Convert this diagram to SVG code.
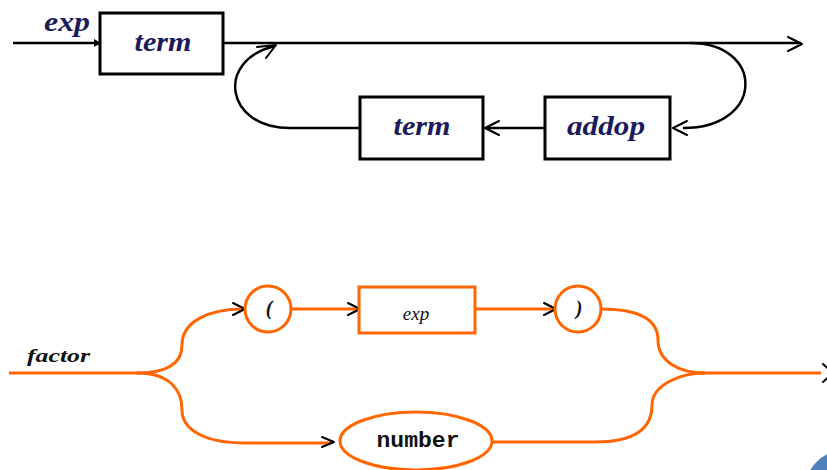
<svg xmlns="http://www.w3.org/2000/svg" width="827" height="470" viewBox="0 0 827 470">
  <style>
    .box { fill: #ffffff; stroke: #000000; stroke-width: 3; }
    .obox { fill: #ffffff; stroke: #ff6600; stroke-width: 3; }
    .wire { fill: none; stroke: #000000; stroke-width: 2.5; }
    .owire { fill: none; stroke: #ff6600; stroke-width: 3; }
    .chev { fill: none; stroke: #000000; stroke-width: 2; stroke-linecap: round; stroke-linejoin: round; }
    .lbl { font-family: "Liberation Serif", "Times New Roman", serif; font-style: italic; font-weight: bold; fill: #1b1b5c; }
    .blbl { font-family: "Liberation Serif", "Times New Roman", serif; font-style: italic; fill: #111111; }
    .mono { font-family: "Liberation Mono", "Courier New", monospace; font-weight: bold; fill: #111111; }
  </style>

  <!-- exp ::= term { addop term } -->
  <g id="connectors-exp">
    <line class="wire" x1="13" y1="43" x2="96" y2="43"/>
    <polygon points="94,39 101,43 94,47" fill="#000000"/>
    <line class="wire" x1="223" y1="43" x2="801" y2="43"/>
    <polyline class="chev" points="788,37 802,44 788,51"/>
    <!-- branch back through addop -->
    <path class="wire" d="M690,43 C765,43 765,128 683,128"/>
    <polyline class="chev" points="687,121 673,128 687,135"/>
    <line class="wire" x1="545" y1="128" x2="487" y2="128"/>
    <polyline class="chev" points="499,121 485,128 499,135"/>
    <line class="wire" x1="360" y1="128" x2="290" y2="128"/>
    <path class="wire" d="M290,128 C225,128 215,60 275,46"/>
    <polyline class="chev" points="257,47 276,45 266,58"/>
  </g>
  <text class="lbl" x="44" y="31" font-size="27" textLength="46" lengthAdjust="spacingAndGlyphs">exp</text>

  <g id="term1">
    <rect class="box" x="100" y="13" width="123" height="61"/>
    <text class="lbl" x="163" y="51" font-size="27" text-anchor="middle" textLength="57" lengthAdjust="spacingAndGlyphs">term</text>
  </g>
  <g id="term2">
    <rect class="box" x="360" y="97" width="123" height="62"/>
    <text class="lbl" x="422" y="135" font-size="27" text-anchor="middle" textLength="57" lengthAdjust="spacingAndGlyphs">term</text>
  </g>
  <g id="addop">
    <rect class="box" x="545" y="97" width="125" height="62"/>
    <text class="lbl" x="606" y="135" font-size="27" text-anchor="middle" textLength="78" lengthAdjust="spacingAndGlyphs">addop</text>
  </g>

  <!-- factor ::= ( exp ) | number -->
  <g id="connectors-factor">
    <line class="owire" x1="9" y1="373" x2="140" y2="373"/>
    <path class="owire" d="M137,373 C170,373 182,362 182,345 C182,322 208,309 243,309"/>
    <path class="owire" d="M137,373 C170,373 182,390 182,410 C182,430 205,443 245,443 L331,443"/>
    <line class="owire" x1="290" y1="309" x2="358" y2="309"/>
    <line class="owire" x1="475" y1="309" x2="554" y2="309"/>
    <path class="owire" d="M601,309 C640,309 658,320 658,340 C658,362 680,373 705,373"/>
    <path class="owire" d="M492,442 L595,442 C632,442 652,430 652,405 C652,385 680,373 705,373"/>
    <line class="owire" x1="702" y1="373" x2="821" y2="373"/>
    <polyline class="chev" points="233,303 245,309 233,315"/>
    <polyline class="chev" points="348,303 360,309 348,315"/>
    <polyline class="chev" points="544,303 556,309 544,315"/>
    <polyline class="chev" points="322,437 334,442 322,447"/>
    <polyline class="chev" points="823,364 833,373 823,382"/>
  </g>
  <text class="blbl" x="27" y="362" font-size="19" font-weight="bold" textLength="63" lengthAdjust="spacingAndGlyphs">factor</text>

  <g id="lparen">
    <circle class="obox" cx="268" cy="309" r="23"/>
    <text class="blbl" x="269" y="315" font-size="20" text-anchor="middle" font-weight="bold">(</text>
  </g>
  <g id="exp">
    <rect class="obox" x="359" y="287" width="116" height="46"/>
    <text class="blbl" x="416" y="320" font-size="19" text-anchor="middle">exp</text>
  </g>
  <g id="rparen">
    <circle class="obox" cx="578" cy="309" r="23"/>
    <text class="blbl" x="579" y="315" font-size="20" text-anchor="middle" font-weight="bold">)</text>
  </g>
  <g id="number">
    <ellipse class="obox" cx="416" cy="441" rx="76" ry="29"/>
    <text class="mono" x="418" y="447" font-size="22" text-anchor="middle" textLength="83" lengthAdjust="spacingAndGlyphs">number</text>
  </g>

  <!-- corner badge -->
  <circle cx="845" cy="490" r="40" fill="#4f81bd"/>
</svg>
